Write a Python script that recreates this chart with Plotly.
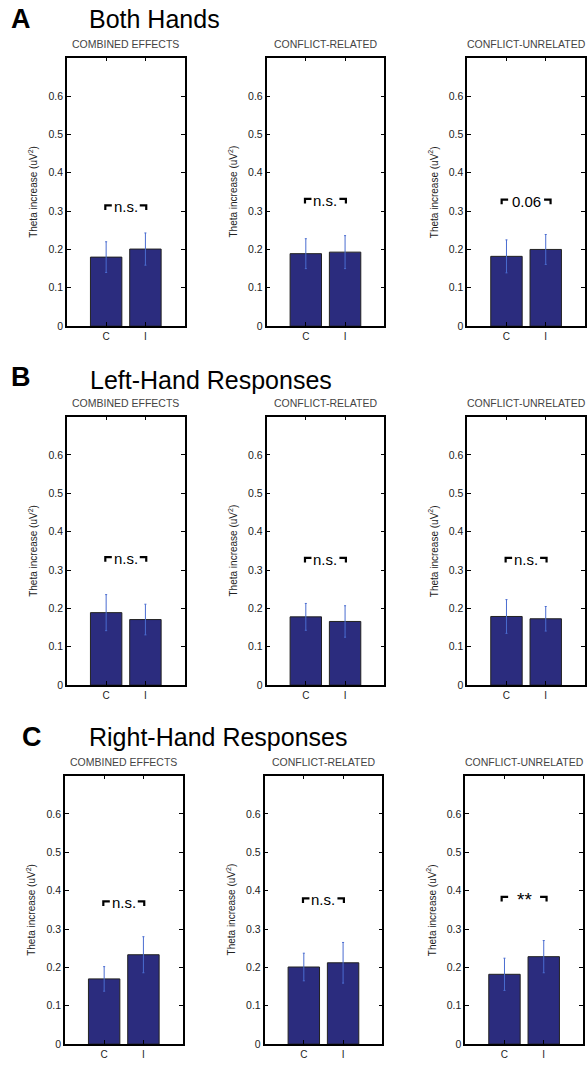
import plotly.graph_objects as go

W, H = 587, 1069

# ---- data ----
conditions = ["C", "I"]
panel_letters = ["A", "B", "C"]
panel_titles = ["Both Hands", "Left-Hand Responses", "Right-Hand Responses"]
effect_titles = ["COMBINED EFFECTS", "CONFLICT-RELATED", "CONFLICT-UNRELATED"]

# means [row][col] -> [C, I]
both_means = [[0.180, 0.201], [0.189, 0.193], [0.182, 0.200]]
both_err = [[0.040, 0.042], [0.039, 0.043], [0.043, 0.039]]
left_means = [[0.189, 0.171], [0.178, 0.166], [0.179, 0.173]]
left_err = [[0.047, 0.040], [0.035, 0.041], [0.044, 0.032]]
right_means = [[0.170, 0.233], [0.201, 0.212], [0.182, 0.228]]
right_err = [[0.032, 0.047], [0.036, 0.053], [0.042, 0.042]]

means = [both_means, left_means, right_means]
errs = [both_err, left_err, right_err]

sig_labels = [["n.s.", "n.s.", "0.06"],
              ["n.s.", "n.s.", "n.s."],
              ["n.s.", "n.s.", "**"]]
sig_heights = [[0.315, 0.332, 0.330],
               [0.334, 0.332, 0.332],
               [0.372, 0.380, 0.384]]

y_ticks = [0, 0.1, 0.2, 0.3, 0.4, 0.5, 0.6]
y_ticktext = ["0", "0.1", "0.2", "0.3", "0.4", "0.5", "0.6"]

# ---- layout geometry (pixels) ----
row_tops = [58, 419, 780]
ax_h = 270
col_lr = [[67, 185], [267, 385], [468, 586]]
row_xshift = [0, 0, -2]
letter_pos = [(21, 19), (21, 379), (32, 741)]
heading_pos = [(87, 19), (88, 382), (87, 741)]
# label style: (half-gap px between bracket inner ends, font size, y offset)
label_style = {"n.s.": (14, 15, -0.004), "0.06": (18, 15, -0.004), "**": (16, 19, -0.007)}

FONT = "Liberation Sans, Arial, Helvetica, sans-serif"
bar_color = "#2b2c7e"
err_color = "#4a6cd0"

fig = go.Figure()
annotations = []
shapes = []


def px(x):
    return x / W


def py(y):
    return 1 - y / H


n = 0
for r in range(3):
    top = row_tops[r]
    bot = top + ax_h
    annotations.append(dict(text="<b>%s</b>" % panel_letters[r], x=px(letter_pos[r][0]), y=py(letter_pos[r][1]),
                            xref="paper", yref="paper", showarrow=False, xanchor="center", yanchor="middle",
                            font=dict(family=FONT, size=27, color="black")))
    annotations.append(dict(text=panel_titles[r], x=px(heading_pos[r][0]), y=py(heading_pos[r][1]),
                            xref="paper", yref="paper", showarrow=False, xanchor="left", yanchor="middle",
                            font=dict(family=FONT, size=25, color="black")))
    for c in range(3):
        n += 1
        xa = "xaxis" if n == 1 else "xaxis%d" % n
        ya = "yaxis" if n == 1 else "yaxis%d" % n
        xr = "x" if n == 1 else "x%d" % n
        yr = "y" if n == 1 else "y%d" % n
        l, rr = col_lr[c][0] + row_xshift[r], col_lr[c][1] + row_xshift[r]
        ppu = (rr - l) / 3.0  # pixels per x unit
        fig.add_trace(go.Bar(
            x=[1, 2], y=means[r][c], width=0.8,
            marker=dict(color=bar_color, line=dict(color="#222222", width=1)),
            error_y=dict(type="data", array=errs[r][c], color=err_color, thickness=1, width=1),
            xaxis=xr, yaxis=yr, showlegend=False))
        fig.layout[xa] = dict(domain=[px(l), px(rr)], range=[0, 3], anchor=yr,
                              tickvals=[1, 2], ticktext=conditions, ticks="inside", ticklen=4,
                              tickwidth=1, tickcolor="black", showline=True, linecolor="black",
                              linewidth=1.5, mirror="ticks", showgrid=False, zeroline=False,
                              tickfont=dict(family=FONT, size=10, color="#222"), fixedrange=True)
        fig.layout[ya] = dict(domain=[py(bot), py(top)], range=[0, 0.7], anchor=xr,
                              tickvals=y_ticks, ticktext=y_ticktext, ticks="inside", ticklen=4,
                              tickwidth=1, tickcolor="black", showline=True, linecolor="black",
                              linewidth=1.5, mirror="ticks", showgrid=False, zeroline=False,
                              tickfont=dict(family=FONT, size=10.5, color="#222"), fixedrange=True)
        # subplot title
        annotations.append(dict(text=effect_titles[c], x=px((l + rr) / 2), y=py(top - 14),
                                xref="paper", yref="paper", showarrow=False, xanchor="center",
                                yanchor="middle", font=dict(family=FONT, size=10.5, color="#444")))
        # y title
        annotations.append(dict(text="Theta increase (uV<sup>2</sup>)", x=px(l - 34), y=py((top + bot) / 2),
                                xref="paper", yref="paper", showarrow=False, textangle=-90,
                                xanchor="center", yanchor="middle",
                                font=dict(family=FONT, size=10, color="#222")))
        # significance bracket
        lab = sig_labels[r][c]
        halfgap, fsize, yoff = label_style[lab]
        yb = sig_heights[r][c]
        hook = 0.012
        gap = halfgap / ppu
        arm = 6.5 / ppu
        xi_l, xi_r = 1.5 - gap, 1.5 + gap
        shapes.append(dict(type="path", xref=xr, yref=yr,
                           path="M %f %f L %f %f L %f %f" % (xi_l - arm, yb - hook, xi_l - arm, yb, xi_l, yb),
                           line=dict(color="black", width=2.2)))
        shapes.append(dict(type="path", xref=xr, yref=yr,
                           path="M %f %f L %f %f L %f %f" % (xi_r, yb, xi_r + arm, yb, xi_r + arm, yb - hook),
                           line=dict(color="black", width=2.2)))
        annotations.append(dict(text=lab, x=1.5, y=yb + yoff,
                                xref=xr, yref=yr, showarrow=False, xanchor="center", yanchor="middle",
                                font=dict(family=FONT, size=fsize, color="black")))

fig.update_layout(width=W, height=H, margin=dict(l=0, r=0, t=0, b=0),
                  paper_bgcolor="white", plot_bgcolor="white",
                  annotations=annotations, shapes=shapes, bargap=0.2,
                  font=dict(family=FONT))

fig.write_html("out.html")
